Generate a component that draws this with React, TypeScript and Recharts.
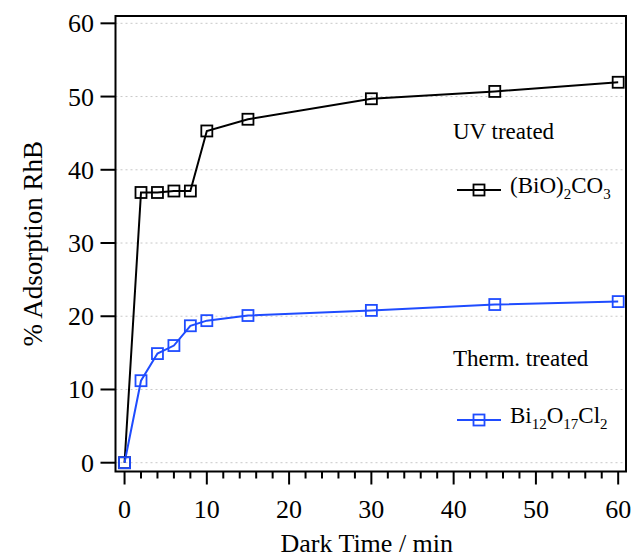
import React from "react";
import {
  CartesianGrid,
  Label,
  Line,
  LineChart,
  ReferenceArea,
  XAxis,
  YAxis,
} from "recharts";

// dark time in minutes
const times = [0, 2, 4, 6, 8, 10, 15, 30, 45, 60];
// % adsorption of RhB
const uvTreated = [0, 36.9, 36.9, 37.1, 37.1, 45.3, 46.9, 49.7, 50.7, 51.95];
const thermTreated = [0, 11.2, 14.9, 16.0, 18.7, 19.4, 20.1, 20.8, 21.6, 22.0];

const xTicks = [0, 2, 4, 6, 8, 10, 12, 14, 16, 18, 20, 22, 24, 26, 28, 30, 32, 34, 36, 38, 40, 42, 44, 46, 48, 50, 52, 54, 56, 58, 60];
const yTicks = [0, 10, 20, 30, 40, 50, 60];

const X_DOMAIN: [number, number] = [-1.1, 60.95];
const Y_DOMAIN: [number, number] = [-1.2, 61];

const data = times.map((t, i) => ({ t, uv: uvTreated[i], therm: thermTreated[i] }));

const FONT = "'Liberation Serif', 'Times New Roman', serif";
const BLUE = "#1f4cff";

const squareDot = (color: string) => (props: any) => {
  const { cx, cy, index } = props;
  if (cx == null || cy == null) return null;
  return (
    <rect
      key={`sq-${color}-${index}`}
      x={cx - 5.5}
      y={cy - 5.5}
      width={11}
      height={11}
      fill="none"
      stroke={color}
      strokeWidth={1.8}
    />
  );
};

const XTick = (props: any) => {
  const { x, y, payload } = props;
  const major = payload.value % 10 === 0;
  return (
    <g>
      <line x1={x} x2={x} y1={y} y2={y + (major ? 13 : 7)} stroke="#000" strokeWidth={2} />
      {major && (
        <text x={x} y={y + 46} textAnchor="middle" fontFamily={FONT} fontSize={26} fill="#000">
          {payload.value}
        </text>
      )}
    </g>
  );
};

const YTick = (props: any) => {
  const { x, y, payload } = props;
  return (
    <g>
      <line x1={x - 15} x2={x} y1={y} y2={y} stroke="#000" strokeWidth={2} />
      <text x={x - 21.5} y={y + 9} textAnchor="end" fontFamily={FONT} fontSize={26} fill="#000">
        {payload.value}
      </text>
    </g>
  );
};

const LegendSample = ({ color }: { color: string }) => (
  <svg width={46} height={14} style={{ display: "block" }}>
    <line x1={1} x2={45} y1={7} y2={7} stroke={color} strokeWidth={2} />
    <rect x={17.5} y={1.5} width={11} height={11} fill="none" stroke={color} strokeWidth={1.8} />
  </svg>
);

const textStyle: React.CSSProperties = {
  position: "absolute",
  fontFamily: FONT,
  fontSize: 23,
  color: "#000",
  whiteSpace: "nowrap",
  lineHeight: "26px",
};

export default function App() {
  return (
    <div style={{ position: "absolute", left: 0, top: 0, width: 633, height: 558, background: "#fff" }}>
      <LineChart width={633} height={558} data={data} margin={{ top: 16, right: 7, bottom: 0, left: 0 }}>
        <CartesianGrid horizontal vertical={false} stroke="#c8c8c8" strokeDasharray="2 3" />
        <XAxis
          dataKey="t"
          type="number"
          domain={X_DOMAIN}
          allowDataOverflow
          ticks={xTicks}
          interval={0}
          height={86.5}
          tickSize={0}
          tickMargin={0}
          tickLine={false}
          axisLine={false}
          tick={<XTick />}
        >
          <Label
            value="Dark Time / min"
            position="insideBottom"
            offset={6}
            dx={-4}
            style={{ fontFamily: FONT, fontSize: 26, fill: "#000" }}
          />
        </XAxis>
        <YAxis
          type="number"
          domain={Y_DOMAIN}
          allowDataOverflow
          ticks={yTicks}
          interval={0}
          width={115.5}
          tickSize={0}
          tickMargin={0}
          tickLine={false}
          axisLine={false}
          tick={<YTick />}
        >
          <Label
            value="% Adsorption RhB"
            angle={-90}
            position="center"
            dx={-25}
            style={{ fontFamily: FONT, fontSize: 27, fill: "#000", textAnchor: "middle" }}
          />
        </YAxis>
        <ReferenceArea
          x1={X_DOMAIN[0]}
          x2={X_DOMAIN[1]}
          y1={Y_DOMAIN[0]}
          y2={Y_DOMAIN[1]}
          fill="none"
          fillOpacity={0}
          stroke="#000"
          strokeWidth={2}
          ifOverflow="visible"
        />
        <Line
          type="linear"
          dataKey="uv"
          stroke="#000"
          strokeWidth={2}
          dot={squareDot("#000")}
          activeDot={false}
          isAnimationActive={false}
        />
        <Line
          type="linear"
          dataKey="therm"
          stroke={BLUE}
          strokeWidth={2}
          dot={squareDot(BLUE)}
          activeDot={false}
          isAnimationActive={false}
        />
      </LineChart>

      <div style={{ ...textStyle, left: 453, top: 119 }}>UV treated</div>
      <div style={{ ...textStyle, left: 456, top: 173, display: "flex", alignItems: "center" }}>
        <LegendSample color="#000" />
        <span style={{ marginLeft: 8 }}>
          (BiO)<sub style={{ fontSize: 15 }}>2</sub>CO<sub style={{ fontSize: 15 }}>3</sub>
        </span>
      </div>
      <div style={{ ...textStyle, left: 453, top: 346 }}>Therm. treated</div>
      <div style={{ ...textStyle, left: 456, top: 403, display: "flex", alignItems: "center" }}>
        <LegendSample color={BLUE} />
        <span style={{ marginLeft: 8 }}>
          Bi<sub style={{ fontSize: 15 }}>12</sub>O<sub style={{ fontSize: 15 }}>17</sub>Cl<sub style={{ fontSize: 15 }}>2</sub>
        </span>
      </div>
    </div>
  );
}
